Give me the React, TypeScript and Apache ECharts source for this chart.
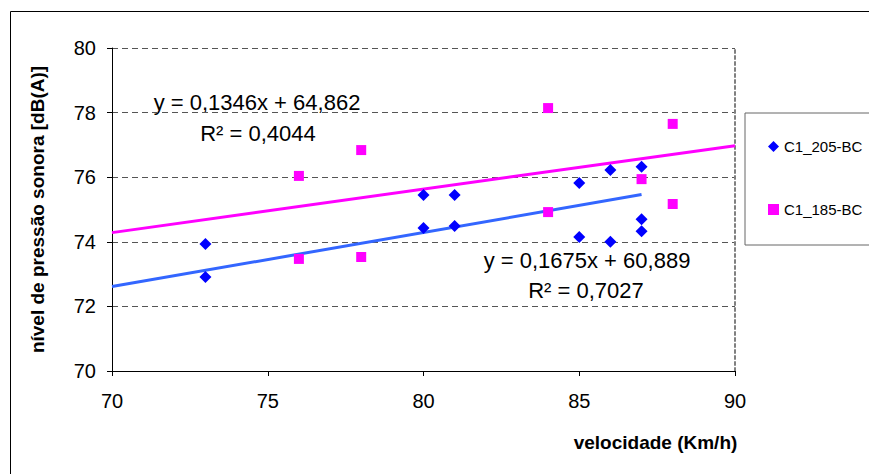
import React, { useEffect, useRef } from "react";
import * as echarts from "echarts";

const FONT = "'Liberation Sans', Arial, sans-serif";

const seriesNames = ["C1_205-BC", "C1_185-BC"];

// C1_205-BC (blue diamonds)
const speed205 = [73, 73, 80, 80, 81, 81, 85, 85, 86, 86, 87, 87, 87];
const level205 = [73.93, 72.91, 75.45, 74.43, 75.45, 74.49, 75.82, 74.15, 76.22, 74.0, 76.32, 74.7, 74.33];

// C1_185-BC (magenta squares)
const speed185 = [76, 76, 78, 78, 84, 84, 87, 88, 88];
const level185 = [76.04, 73.47, 76.84, 73.53, 78.14, 74.92, 75.94, 77.65, 75.17];

// Trendline coefficients (slope, intercept) and x-ranges
const trend205 = [0.1675, 60.889];
const trend185 = [0.1346, 64.862];
const trendRange205 = [70, 87];
const trendRange185 = [70, 90];

const eqText205 = ["y = 0,1675x + 60,889", "R² = 0,7027"];
const eqText185 = ["y = 0,1346x + 64,862", "R² = 0,4044"];

const xTicks = [70, 75, 80, 85, 90];
const yTicks = [70, 72, 74, 76, 78, 80];

const pairs = (xs: number[], ys: number[]) => xs.map((x, i) => [x, ys[i]]);
const trendLine = (coef: number[], range: number[]) =>
  range.map((x) => [x, coef[0] * x + coef[1]]);

export default function App() {
  const ref = useRef<HTMLDivElement>(null);

  useEffect(() => {
    if (!ref.current) return;
    const chart = echarts.init(ref.current, undefined, { renderer: "svg" });
    const eqStyle = (text: string) => ({
      text,
      fill: "#000",
      font: `22px ${FONT}`,
      align: "center",
      verticalAlign: "middle",
    });
    chart.setOption({
      animation: false,
      backgroundColor: "#fff",
      grid: { left: 112, right: 134, top: 48, bottom: 103 },
      xAxis: {
        type: "value",
        min: xTicks[0],
        max: xTicks[xTicks.length - 1],
        interval: 5,
        name: "velocidade (Km/h)",
        nameLocation: "middle",
        nameGap: 62,
        nameTextStyle: {
          fontFamily: FONT,
          fontWeight: "bold",
          fontSize: 19,
          color: "#000",
          padding: [0, 0, 0, 464],
        },
        axisLine: { show: true, lineStyle: { color: "#000", width: 1 } },
        axisTick: { show: true, length: 5, lineStyle: { color: "#000" } },
        axisLabel: { fontFamily: FONT, fontSize: 20, color: "#000", margin: 20 },
        splitLine: { show: false },
      },
      yAxis: [
        {
          type: "value",
          min: yTicks[0],
          max: yTicks[yTicks.length - 1],
          interval: 2,
          name: "nível de pressão sonora [dB(A)]",
          nameLocation: "middle",
          nameGap: 65,
          nameTextStyle: {
            fontFamily: FONT,
            fontWeight: "bold",
            fontSize: 19,
            color: "#000",
          },
          axisLine: { show: true, lineStyle: { color: "#000", width: 1 } },
          axisTick: { show: true, length: 5, lineStyle: { color: "#000" } },
          axisLabel: { fontFamily: FONT, fontSize: 20, color: "#000", margin: 16 },
          splitLine: {
            show: true,
            lineStyle: { color: "#555", type: [6, 4], width: 1 },
          },
        },
        {
          type: "value",
          position: "right",
          min: yTicks[0],
          max: yTicks[yTicks.length - 1],
          interval: 2,
          axisLine: { show: true, lineStyle: { color: "#808080", type: [3, 3], width: 2 } },
          axisTick: { show: false },
          axisLabel: { show: false },
          splitLine: { show: false },
        },
      ],
      legend: {
        orient: "vertical",
        left: 745,
        top: 113,
        padding: [26, 30, 28, 23],
        itemGap: 48,
        itemWidth: 11,
        itemHeight: 11,
        borderColor: "#666",
        borderWidth: 1,
        textStyle: { fontFamily: FONT, fontSize: 15, color: "#000", lineHeight: 14 },
        data: [
          { name: seriesNames[0], icon: "diamond" },
          { name: seriesNames[1], icon: "rect" },
        ],
      },
      graphic: [
        {
          type: "rect",
          silent: true,
          z: -10,
          shape: { x: 10.5, y: 11.5, width: 900, height: 500 },
          style: { fill: "none", stroke: "#000", lineWidth: 1 },
        },
        { type: "text", x: 257, y: 102, style: eqStyle(eqText185[0]) },
        { type: "text", x: 258, y: 133, style: eqStyle(eqText185[1]) },
        { type: "text", x: 587, y: 260, style: eqStyle(eqText205[0]) },
        { type: "text", x: 586, y: 290, style: eqStyle(eqText205[1]) },
      ],
      series: [
        {
          name: "trend185",
          type: "line",
          data: trendLine(trend185, trendRange185),
          showSymbol: false,
          lineStyle: { color: "#FF00FF", width: 3 },
          itemStyle: { color: "#FF00FF" },
          z: 1,
          silent: true,
        },
        {
          name: "trend205",
          type: "line",
          data: trendLine(trend205, trendRange205),
          showSymbol: false,
          lineStyle: { color: "#3366FF", width: 3 },
          itemStyle: { color: "#3366FF" },
          z: 1,
          silent: true,
        },
        {
          name: seriesNames[0],
          type: "scatter",
          symbol: "diamond",
          symbolSize: [12, 12],
          itemStyle: { color: "#0000FF", opacity: 1 },
          data: pairs(speed205, level205),
          z: 3,
        },
        {
          name: seriesNames[1],
          type: "scatter",
          symbol: "rect",
          symbolSize: [10, 10],
          itemStyle: { color: "#FF00FF", opacity: 1 },
          data: pairs(speed185, level185),
          z: 2,
        },
      ],
    });
    return () => chart.dispose();
  }, []);

  return (
    <div
      ref={ref}
      style={{ position: "fixed", left: 0, top: 0, width: 869, height: 474 }}
    />
  );
}
